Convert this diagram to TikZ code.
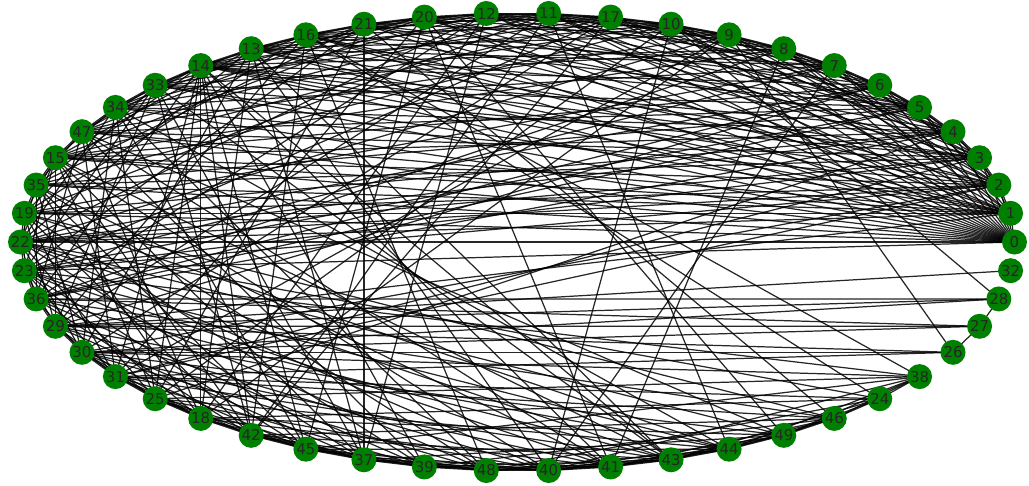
\documentclass[tikz,border=0pt]{standalone}
\usepackage{fontspec}
\setmainfont{DejaVu Sans}
\pgfdeclarelayer{background}
\pgfsetlayers{background,main}

\begin{document}
\begin{tikzpicture}[x=0.02cm, y=0.02cm,
  vertex/.style={circle, fill=green!50!black, draw=none, minimum size=0.5cm, inner sep=0pt,
                 font=\fontsize{8.5}{9}\selectfont, text=black!85},
  edge/.style={black, line width=0.7pt, opacity=0.85}]
\useasboundingbox (-517.5,-243) rectangle (511.5,242);
% vertices on the ellipse
\foreach \lab [count=\k from 0] in {0,1,2,3,4,5,6,7,8,9,10,17,11,12,20,21,16,13,14,33,34,47,15,35,19,22,23,36,29,30,31,25,18,42,45,37,39,48,40,41,43,44,49,46,24,38,26,27,28,32}
  \node [vertex] (n\lab) at ({497*cos(7.2*\k)},{229*sin(7.2*\k)}) {\lab};
% edges
\begin{pgfonlayer}{background}
\foreach \a/\nbrs in {
  0/{1,2,3,4,5,6,7,8,9,10,17,11,12,20,21,16,13,14,33,34,47,15,35,19,22,23},
  1/{2,3,5,7,8,10,11,12,20,16,13,14,33,47,15,35,19,22,29},
  2/{3,4,6,8,9,17,11,21,16,14,34,15,19,22,23,31,30},
  3/{4,5,7,9,10,12,20,13,14,33,47,35,22,23,31},
  4/{5,6,8,10,17,11,21,14,34,15,19,22,36,25},
  5/{6,7,9,17,12,20,16,13,33,47,35,23,36},
  6/{7,8,10,11,21,14,15,22,29,36},
  7/{8,9,17,12,16,13,34,19,23,40},
  8/{9,10,11,20,14,33,15,36,41},
  9/{10,17,12,21,13,47,22,31,26,18},
  10/{17,11,20,16,14,34,35,25,28,40},
  17/{11,12,21,13,33,15,23,30,42},
  11/{12,20,16,14,47,19,29,42,44},
  12/{20,21,13,34,22,36,18,37},
  20/{21,16,14,33,15,31,45,41,49},
  21/{16,13,47,35,23,25,37,46},
  16/{13,14,34,19,29,42,48,38,24},
  13/{14,33,15,22,30,18,37,40,43},
  14/{33,34,47,35,36,31,25,18,42,45,39,41,43},
  33/{34,47,19,23,29,42,37,43},
  34/{47,15,22,30,25,45,48,44},
  47/{15,35,36,31,18,39,41,49},
  15/{35,19,22,23,29,25,42,37,40,43},
  35/{19,22,36,30,18,45,48,41},
  19/{22,23,29,31,42,39,44,46},
  22/{23,36,30,25,37,40,43,49,24},
  23/{36,29,31,18,45,48,41,44,38},
  36/{29,30,42,39,43,46,28,27},
  29/{30,31,25,37,40,44,32,26,28,27},
  30/{31,25,18,45,48,41,49,38,27,26,28},
  31/{25,18,42,39,43,46,24,26},
  25/{18,42,45,37,40,44,38},
  18/{42,45,37,41,49,24},
  42/{45,37,39,48,43,46},
  45/{37,39,48,40,44,38},
  37/{39,48,40,41,49},
  39/{48,40,41,43,46},
  48/{40,41,43,44,24},
  40/{41,43,44,49,38},
  41/{43,44,49,46},
  43/{44,49,46,24},
  44/{49,46,38},
  49/{46,24,38},
  46/{24,38},
  24/{38},
  26/{27},
  27/{28}}
  \foreach \b in \nbrs
    \draw [edge] (n\a.center) -- (n\b.center);
\end{pgfonlayer}
\end{tikzpicture}
\end{document}
